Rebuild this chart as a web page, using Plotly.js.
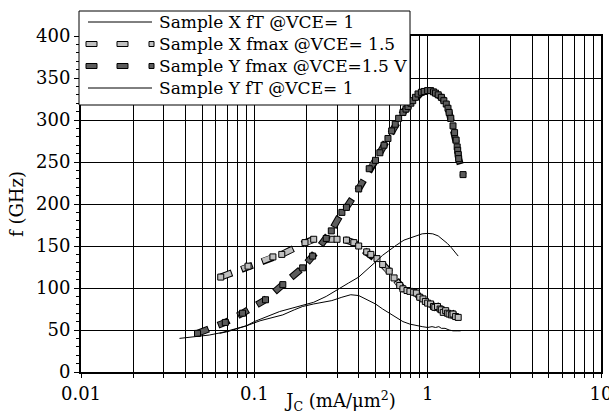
<!DOCTYPE html>
<html><head><meta charset="utf-8">
<script src="https://cdn.plot.ly/plotly-3.0.1.min.js"></script>
<style>html,body{margin:0;padding:0;background:#fff}#chart{width:609px;height:414px}</style>
</head><body><div id="chart"></div>
<script>
// ---- data ----
const seriesNames = ['Sample X fT @VCE= 1', 'Sample X fmax @VCE= 1.5', 'Sample Y fmax @VCE=1.5 V', 'Sample Y fT @VCE= 1'];

const xFtX = [0.037,0.045,0.055,0.065,0.078,0.09,0.108,0.125,0.146,0.17,0.19,0.22,0.25,0.28,0.32,0.36,0.40,0.45,0.50,0.55,0.60,0.66,0.72,0.79,0.86,0.93,1.0,1.06,1.11,1.16,1.2,1.26,1.33,1.4,1.48,1.55];
const fFtX = [40,42,44,47,51,55,61,64,68,74,78,81,83,85,89,92,91,86,81,75,70,64,60,57,55,54,53,54,53,54,52,52,50,49,49,49];

const xFtY = [0.063,0.07,0.078,0.09,0.1,0.12,0.14,0.165,0.19,0.22,0.26,0.3,0.35,0.4,0.45,0.5,0.55,0.6,0.66,0.73,0.82,0.93,1.0,1.07,1.15,1.22,1.3,1.37,1.43,1.5];
const fFtY = [46,48,51,55,60,66,72,76,79,83,90,98,106,113,122,131,139,145,151,157,161,164.5,165,164.5,162,158,153,148,143,138];

const xFmX = [0.064,0.092,0.128,0.144,0.196,0.22,0.3,0.34,0.375,0.40,0.445,0.47,0.51,0.55,0.6,0.64,0.69,0.72,0.76,0.79,0.83,0.86,0.9,0.94,0.97,1.0,1.04,1.08,1.1,1.14,1.18,1.2,1.23,1.27,1.3,1.33,1.37,1.4,1.45,1.5];
const fFmX = [113,126,137,140,154,158,158,157,154,150,143,140,135,128,120,112,103,99,97,96,95,94,89,87,84,82,81,78,77,78,75,74,71,73,70,69,68,69,66,65];

const xFmY = [0.047,0.068,0.0855,0.116,0.146,0.19,0.217,0.26,0.278,0.32,0.34,0.4,0.46,0.5,0.53,0.56,0.59,0.62,0.65,0.68,0.72,0.75,0.77,0.8,0.82,0.85,0.88,0.92,0.955,1.0,1.04,1.08,1.11,1.15,1.2,1.24,1.28,1.31,1.33,1.36,1.4,1.43,1.46,1.48,1.49,1.5,1.51,1.6];
const fFmY = [46,59,70,86,104,124,138,159,168,190,196,218,242,252,261,270,278,287,295,302,309,313,316,320,323,327,331,333,334,335,335,333.5,332,330,327,323,319,314,309,302,293,285,276,268,264,259,254,235];

const xDecades = [0.01, 0.1, 1, 10];
const xTickLabels = ['0.01', '0.1', '1', '10'];

// ---- styling ----
const FONT = 'DejaVu Serif';
const LIGHT = '#c0c0c0', DARK = '#5c5c5c';

// minor log grid positions (2..9 in each decade)
const xMinorVals = [];
xDecades.slice(0, -1).forEach(d => {
  for (let k = 2; k <= 9; k++) xMinorVals.push(+(d * k).toPrecision(3));
});

function outline(x, y) {
  return {x, y, type: 'scatter', mode: 'lines', showlegend: false, hoverinfo: 'skip',
    line: {color: '#000', width: 7, dash: '12px,10px'}};
}
function filled(x, y, c, name) {
  return {x, y, type: 'scatter', mode: 'lines+markers', name, showlegend: false,
    line: {color: c, width: 5, dash: '10px,12px'},
    marker: {symbol: 'square', size: 6, color: c, line: {color: '#000', width: 1}}};
}
const data = [
  outline(xFmX, fFmX), filled(xFmX, fFmX, LIGHT, seriesNames[1]),
  outline(xFmY, fFmY), filled(xFmY, fFmY, DARK, seriesNames[2]),
  {x: xFtX, y: fFtX, type: 'scatter', mode: 'lines', name: seriesNames[0], showlegend: false, line: {color: '#000', width: 1}},
  {x: xFtY, y: fFtY, type: 'scatter', mode: 'lines', name: seriesNames[3], showlegend: false, line: {color: '#000', width: 1}}
];

// pixel -> paper helpers for the hand-built legend box
const L = 81, T = 36, W = 520, H = 336;
const px = v => (v - L) / W;
const py = v => (T + H - v) / H;

const shapes = [
  {type: 'rect', xref: 'paper', yref: 'paper', x0: px(79), x1: px(410), y0: py(105), y1: py(11), fillcolor: '#fff', line: {color: '#000', width: 1}, layer: 'above'},
  {type: 'line', xref: 'paper', yref: 'paper', x0: px(88), x1: px(152), y0: py(22), y1: py(22), line: {color: '#000', width: 1}, layer: 'above'},
  {type: 'line', xref: 'paper', yref: 'paper', x0: px(88), x1: px(152), y0: py(88), y1: py(88), line: {color: '#000', width: 1}, layer: 'above'}
];
[[44, LIGHT], [66, DARK]].forEach(([cy, c]) => {
  [[86, 97], [117, 128], [149, 154]].forEach(([a, b]) => {
    shapes.push({type: 'rect', xref: 'paper', yref: 'paper', x0: px(a), x1: px(b), y0: py(cy + 2.5), y1: py(cy - 2.5),
      fillcolor: c, line: {color: '#000', width: 1}, layer: 'above'});
  });
});
const rowsY = [22, 44, 66, 88];
const annotations = [0, 1, 2, 3].map(i => ({
  xref: 'paper', yref: 'paper', x: px(157), y: py(rowsY[i]), xanchor: 'left', yanchor: 'middle',
  text: seriesNames[i], showarrow: false, font: {family: FONT, size: 17, color: '#000'}
}));

const layout = {
  width: 609, height: 414,
  margin: {l: L, r: 609 - L - W, t: T, b: 414 - T - H},
  paper_bgcolor: '#fff', plot_bgcolor: '#fff',
  font: {family: FONT, size: 18, color: '#000'},
  showlegend: false,
  xaxis: {
    type: 'log', range: [-2, 1], tickvals: xDecades, ticktext: xTickLabels,
    ticks: 'outside', ticklen: 4, tickcolor: '#000', tickwidth: 1,
    showgrid: true, gridcolor: '#000', gridwidth: 1,
    minor: {tickvals: xMinorVals, ticks: 'outside', ticklen: 4, tickcolor: '#000', showgrid: true, gridcolor: '#000', gridwidth: 1},
    showline: true, linecolor: '#000', linewidth: 2, mirror: true,
    zeroline: false, ticklabeloverflow: 'allow', tickfont: {family: FONT, size: 18, color: '#000'},
    title: {text: 'J<sub>C</sub> (mA/μm<sup>2</sup>)', font: {family: FONT, size: 18, color: '#000'}, standoff: 2}
  },
  yaxis: {
    range: [0, 400], dtick: 50, ticks: 'outside', ticklen: 5, tickcolor: '#000', tickwidth: 1,
    showgrid: true, gridcolor: '#000', gridwidth: 1,
    showline: true, linecolor: '#000', linewidth: 2, mirror: true,
    zeroline: false, tickfont: {family: FONT, size: 18, color: '#000'},
    minor: {dtick: 10, ticks: 'outside', ticklen: 3, tickcolor: '#000', showgrid: false},
    title: {text: 'f (GHz)', font: {family: FONT, size: 18, color: '#000'}, standoff: 8}
  },
  shapes, annotations
};

Plotly.newPlot('chart', data, layout, {staticPlot: true, displayModeBar: false}).then(() => {
  const traces = document.querySelectorAll('#chart .scatterlayer .trace');
  [1, 3].forEach(i => {
    const p = traces[i] && traces[i].querySelector('path.js-line');
    if (p) p.style.strokeDashoffset = '-1px';
  });
});
</script>
</body></html>
